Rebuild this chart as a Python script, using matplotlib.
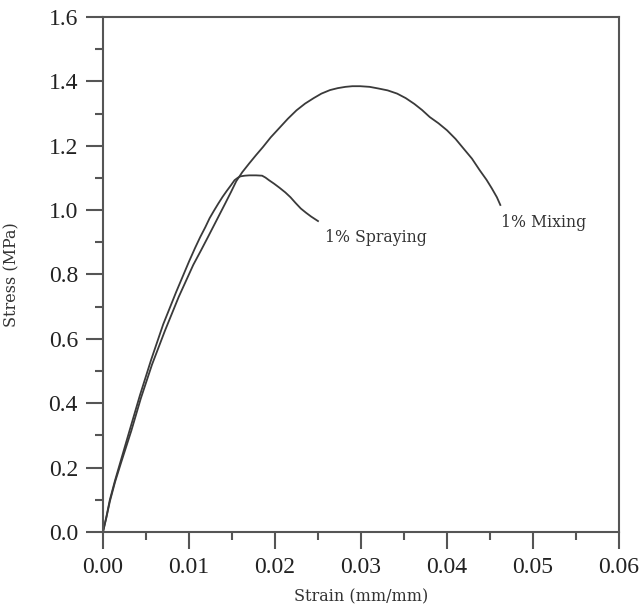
import matplotlib
matplotlib.use("Agg")
import matplotlib.pyplot as plt
from matplotlib.ticker import MultipleLocator, FormatStrFormatter

plt.rcParams["font.family"] = "serif"
plt.rcParams["font.serif"] = ["Liberation Serif", "DejaVu Serif"]

# Data
mixing_strain = [0, 0.0004, 0.0008, 0.0014, 0.0021, 0.0033, 0.0044, 0.0057, 0.0072,
                 0.0088, 0.0105, 0.0114, 0.0122, 0.0132, 0.0142, 0.0149, 0.0155,
                 0.0162, 0.0170, 0.0178, 0.0186, 0.0195, 0.0205, 0.0215, 0.0225,
                 0.0235, 0.0245, 0.0254, 0.0264, 0.0273, 0.0282, 0.0290, 0.0299,
                 0.0310, 0.0320, 0.0331, 0.0342, 0.0352, 0.0362, 0.0371, 0.0380,
                 0.0390, 0.0400, 0.0410, 0.0419, 0.0429, 0.0438, 0.0446, 0.0452,
                 0.0458, 0.0462]
mixing_stress = [0, 0.045, 0.095, 0.155, 0.215, 0.315, 0.415, 0.52, 0.625,
                 0.73, 0.83, 0.875, 0.916, 0.968, 1.02, 1.057, 1.09,
                 1.118, 1.145, 1.171, 1.196, 1.226, 1.255, 1.284, 1.31,
                 1.331, 1.348, 1.362, 1.373, 1.379, 1.383, 1.385, 1.385,
                 1.383, 1.378, 1.372, 1.362, 1.348, 1.330, 1.311, 1.289,
                 1.270, 1.248, 1.221, 1.192, 1.160, 1.124, 1.094, 1.068,
                 1.040, 1.016]

spray_strain = [0, 0.0004, 0.0008, 0.0014, 0.0020, 0.0032, 0.0043, 0.0056, 0.0070,
                0.0085, 0.0100, 0.0107, 0.0113, 0.0119, 0.0124, 0.0129, 0.0134,
                0.0139, 0.0144, 0.0149, 0.0153, 0.0157, 0.0160, 0.0165, 0.0170,
                0.0178, 0.0185, 0.0189, 0.0193, 0.0199, 0.0205, 0.0212, 0.0218,
                0.0224, 0.0230, 0.0236, 0.0242, 0.0246, 0.0250]
spray_stress = [0, 0.048, 0.10, 0.16, 0.215, 0.325, 0.425, 0.535, 0.645,
                0.745, 0.84, 0.882, 0.916, 0.947, 0.975, 0.998, 1.02,
                1.041, 1.06, 1.078, 1.093, 1.101, 1.105, 1.107, 1.108,
                1.108, 1.107, 1.101, 1.093, 1.082, 1.07, 1.055, 1.04,
                1.022, 1.005, 0.992, 0.98, 0.973, 0.966]

labels = ["1% Mixing", "1% Spraying"]
label_pos = [(0.0463, 0.963), (0.0258, 0.916)]

fig = plt.figure(figsize=(6.42, 6.05), dpi=100)
ax = fig.add_axes([0.1604, 0.1207, 0.8038, 0.8512])

line_color = "#3a3a3a"
ax.plot(mixing_strain, mixing_stress, color=line_color, lw=1.3)
ax.plot(spray_strain, spray_stress, color=line_color, lw=1.3)

for lab, (lx, ly) in zip(labels, label_pos):
    ax.text(lx, ly, lab, fontsize=11.3, family="DejaVu Serif", color="#333333",
            ha="left", va="center")

ax.set_xlim(0, 0.06)
ax.set_ylim(0, 1.6)
ax.xaxis.set_major_locator(MultipleLocator(0.01))
ax.xaxis.set_minor_locator(MultipleLocator(0.005))
ax.yaxis.set_major_locator(MultipleLocator(0.2))
ax.yaxis.set_minor_locator(MultipleLocator(0.1))
ax.xaxis.set_major_formatter(FormatStrFormatter("%.2f"))
ax.yaxis.set_major_formatter(FormatStrFormatter("%.1f"))

spine_color = "#555555"
for s in ax.spines.values():
    s.set_color(spine_color)
    s.set_linewidth(1.5)

ax.tick_params(which="major", direction="out", length=12, width=1.5,
               color=spine_color, labelsize=17, pad=6, labelcolor="#222222")
ax.tick_params(which="minor", direction="out", length=6, width=1.5,
               color=spine_color)

ax.set_xlabel("Strain (mm/mm)", fontsize=11.5, family="DejaVu Serif",
              color="#333333")
ax.xaxis.set_label_coords(0.5, -0.11)
ax.set_ylabel("Stress (MPa)", fontsize=11.5, family="DejaVu Serif",
              color="#333333")
ax.yaxis.set_label_coords(-0.16, 0.5)

fig.savefig("out.png", dpi=100)
